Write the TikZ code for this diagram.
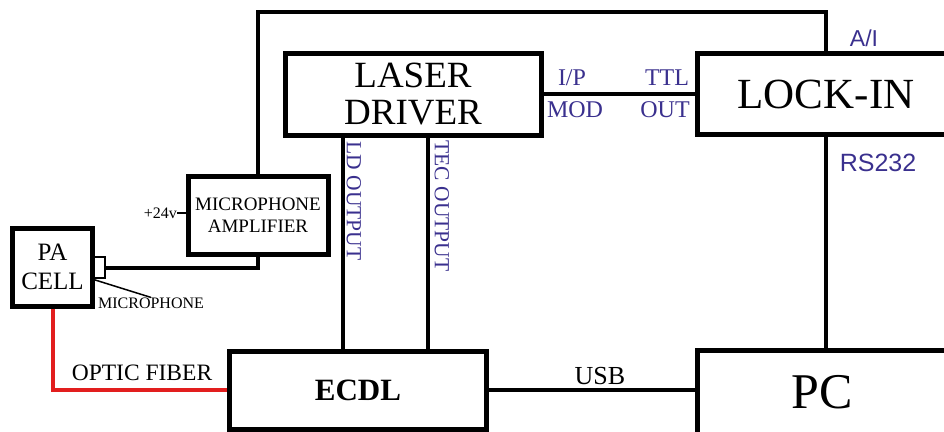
\documentclass[tikz,border=0pt]{standalone}
\usepackage{fontspec}
\setmainfont{Liberation Serif}
\newfontfamily\arialfont{Liberation Sans}
\usetikzlibrary{positioning, calc}
\definecolor{tagblue}{RGB}{58,48,142}
\definecolor{fibred}{RGB}{226,30,30}
\newcommand{\fs}[1]{\fontsize{#1}{1.15\dimexpr #1pt\relax}\selectfont}

\begin{document}
\begin{tikzpicture}[
  x=1pt, y=-1pt,
  box/.style={draw, line width=5pt, align=center, inner sep=0pt},
  wire/.style={line width=4pt},
  tag/.style={text=tagblue, inner sep=0pt},
  every node/.style={font=\fs{20}}
]
\useasboundingbox (0,0) rectangle (944,431);

% Boxes
\node[box, minimum width=256, minimum height=82, font=\fs{37}] (driver) at (413,94) {LASER\\[-6pt]DRIVER};
\node[box, minimum width=258, minimum height=81, font=\fs{43}] (lockin) at (826,94) {LOCK-IN};
\node[box, minimum width=140, minimum height=78, font=\fs{19}] (amp) at (258,215) {MICROPHONE\\AMPLIFIER};
\node[box, minimum width=80, minimum height=78, font=\fs{25}] (pacell) at (52.5,267) {PA\\CELL};
\node[draw, line width=2pt, minimum width=12, minimum height=21, inner sep=0pt] (mic) at (99,267.5) {};
\node[box, minimum width=257, minimum height=78, font=\fs{31}\bfseries] (ecdl) at (358,390) {ECDL};
\node[box, minimum width=250, minimum height=84, font=\fs{50}] (pc) at (822,392) {PC};

% Connections
\coordinate (aitop) at (258,12);
\coordinate (ldout) at (343,0);
\coordinate (tecout) at (428,0);
\draw[wire] (amp.north) -- (aitop) -| (lockin.north);
\draw[wire] (driver.east) -- (driver.east -| lockin.west);
\draw[wire] (lockin.south) -- (lockin.south |- pc.north);
\draw[wire] (driver.south -| ldout) -- (ecdl.north -| ldout);
\draw[wire] (driver.south -| tecout) -- (ecdl.north -| tecout);
\draw[wire] (mic.east) -| (amp.south);
\draw[wire] (ecdl.east) -- (ecdl.east -| pc.west);
\draw[wire, fibred] (pacell.south) |- (ecdl.west);

% Labels
\node[tag, font=\fs{24}] (ip) at (572,78) {I/P};
\node[tag, font=\fs{24}] (mod) at (575,110) {MOD};
\node[tag, font=\fs{24}] (ttl) at (667,78) {TTL};
\node[tag, font=\fs{24}] (out) at (665,110) {OUT};
\node[tag, font=\fs{23}\arialfont] (ai) at (864,38) {A/I};
\node[tag, font=\fs{25}\arialfont] (rs) at (878,163) {RS232};
\node[tag, font=\fs{21.5}, rotate=-90] (ldlbl) at (354,201) {LD OUTPUT};
\node[tag, font=\fs{21.5}, rotate=-90] (teclbl) at (442,206) {TEC OUTPUT};
\node[font=\fs{23.5}] (fiber) at (142,373) {OPTIC FIBER};
\node[font=\fs{26}] (usb) at (600,376) {USB};
\node[font=\fs{16}, inner sep=0pt] (miclbl) at (151,303) {MICROPHONE};
\node[font=\fs{16}, inner sep=0pt, anchor=east] (v24) at (177,213) {+24v};
\draw[line width=1.5pt] (v24.east) -- (amp.west |- v24.east);
\draw[line width=1.5pt] (mic.south west) -- (miclbl.north);
\end{tikzpicture}
\end{document}
